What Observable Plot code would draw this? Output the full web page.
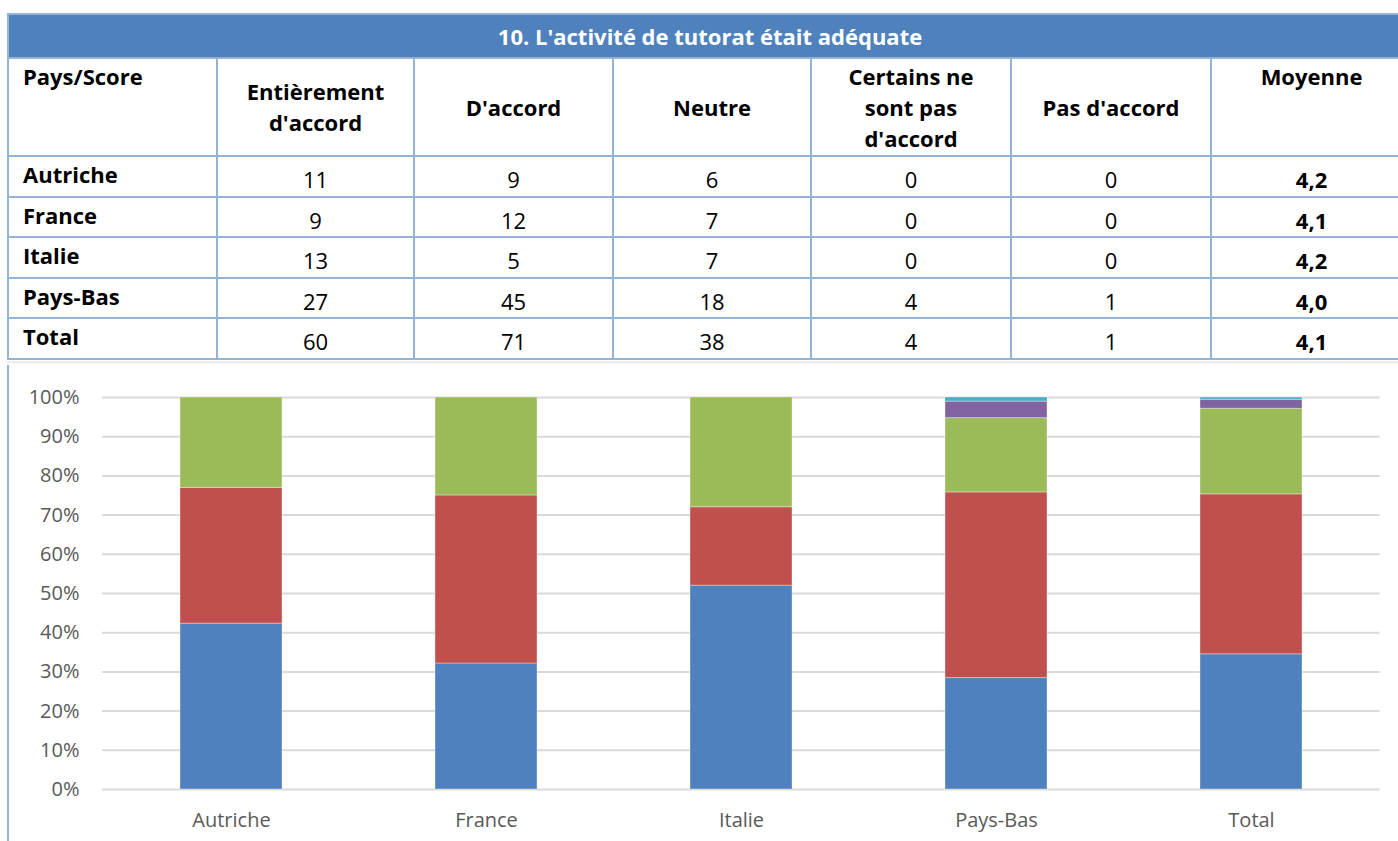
<!DOCTYPE html>
<html>
<head>
<meta charset="utf-8">
<script src="https://cdn.jsdelivr.net/npm/d3@7"></script>
<script src="https://cdn.jsdelivr.net/npm/@observablehq/plot@0.6"></script>
<style>
  html, body { margin: 0; padding: 0; background: #fff; width: 1398px; height: 841px; overflow: hidden; }
  body { position: relative; font-family: "Open Sans", Lato, sans-serif; }
  #tbl { position: absolute; left: 7px; top: 13px; border-collapse: collapse; width: 1404px; table-layout: fixed; }
  #tbl td, #tbl th { border: 2px solid #95B3D7; padding: 0; font-size: 22px; color: #000; }
  #tbl .title { background: #4F81BD; color: #fff; font-weight: bold; text-align: center; height: 42px; line-height: 42px; }
  #tbl .head th { height: 96px; font-weight: bold; text-align: center; vertical-align: middle; line-height: 31px; }
  #tbl .head th.top { vertical-align: top; }
  #tbl .head th.top div { position: relative; top: 2px; }
  #tbl .head th.left { text-align: left; padding-left: 14px; }
  #tbl .row td { height: 38.5px; text-align: center; vertical-align: middle; line-height: 30px; }
  #tbl .row td div { position: relative; top: 3px; }
  #tbl .row td.lab { text-align: left; font-weight: bold; padding-left: 14px; }
  #tbl .row td.lab div { top: -2px; }
  #tbl .row td.avg { font-weight: bold; }
  #shadow { position: absolute; left: 7px; top: 361px; width: 1391px; height: 4px; background: linear-gradient(#e6e6e6, #fff); }
  #frame { position: absolute; left: 7px; top: 365px; width: 0; height: 476px; border-left: 2px solid #95B3D7; }
  #chart { position: absolute; left: 0; top: 365px; }
</style>
</head>
<body>
<table id="tbl"></table>
<div id="shadow"></div>
<div id="frame"></div>
<div id="chart"></div>
<script>
const title = "10. L'activité de tutorat était adéquate";
const cornerLabel = "Pays/Score";
const categories = ["Entièrement d'accord", "D'accord", "Neutre", "Certains ne sont pas d'accord", "Pas d'accord"];
const headerHtml = ["Entièrement<br>d'accord", "D'accord", "Neutre", "Certains ne<br>sont pas<br>d'accord", "Pas d'accord"];
const averageLabel = "Moyenne";
const countries = ["Autriche", "France", "Italie", "Pays-Bas", "Total"];
const entierement = [11, 9, 13, 27, 60];
const daccord = [9, 12, 5, 45, 71];
const neutre = [6, 7, 7, 18, 38];
const certains = [0, 0, 0, 4, 4];
const pasDaccord = [0, 0, 0, 1, 1];
const moyenne = ["4,2", "4,1", "4,2", "4,0", "4,1"];
const colors = ["#4F81BD", "#C0504D", "#9BBB59", "#8064A2", "#4BACC6"];
const yTicks = [0, 0.1, 0.2, 0.3, 0.4, 0.5, 0.6, 0.7, 0.8, 0.9, 1];

const series = [entierement, daccord, neutre, certains, pasDaccord];

// Table
const tbl = document.getElementById("tbl");
let html = `<colgroup><col style="width:209px"><col style="width:197px"><col style="width:199px"><col style="width:198px"><col style="width:200px"><col style="width:200px"><col style="width:201px"></colgroup>`;
html += `<tr><td class="title" colspan="7">${title}</td></tr>`;
html += `<tr class="head"><th class="top left"><div>${cornerLabel}</div></th>`;
headerHtml.forEach(h => html += `<th>${h}</th>`);
html += `<th class="top"><div>${averageLabel}</div></th></tr>`;
countries.forEach((c, i) => {
  html += `<tr class="row"><td class="lab"><div>${c}</div></td>`;
  series.forEach(s => html += `<td><div>${s[i]}</div></td>`);
  html += `<td class="avg"><div>${moyenne[i]}</div></td></tr>`;
});
tbl.innerHTML = html;

// Chart data
const data = [];
countries.forEach((c, i) => {
  const total = series.reduce((a, s) => a + s[i], 0);
  categories.forEach((cat, k) => {
    data.push({country: c, category: cat, value: series[k][i] / total});
  });
});

const chart = Plot.plot({
  width: 1398,
  height: 476,
  marginTop: 32,
  marginBottom: 52,
  marginLeft: 102,
  marginRight: 18.5,
  style: {fontFamily: "'Open Sans', Lato, sans-serif", fontSize: "20px", color: "#595959", background: "transparent"},
  x: {domain: countries, paddingInner: 0.6, paddingOuter: 0.3, label: null, tickSize: 0, tickPadding: 23},
  y: {domain: [0, 1], ticks: yTicks, tickFormat: d => Math.round(d * 100) + "%", label: null, tickSize: 0, tickPadding: 23},
  color: {domain: categories, range: colors},
  marks: [
    Plot.ruleY(yTicks, {stroke: "#D9D9D9", strokeWidth: 2}),
    Plot.barY(data, Plot.stackY({order: null}, {x: "country", y: "value", fill: "category", stroke: "#ffffff", strokeOpacity: 0.35, strokeWidth: 1}))
  ]
});
document.getElementById("chart").appendChild(chart);
</script>
</body>
</html>
